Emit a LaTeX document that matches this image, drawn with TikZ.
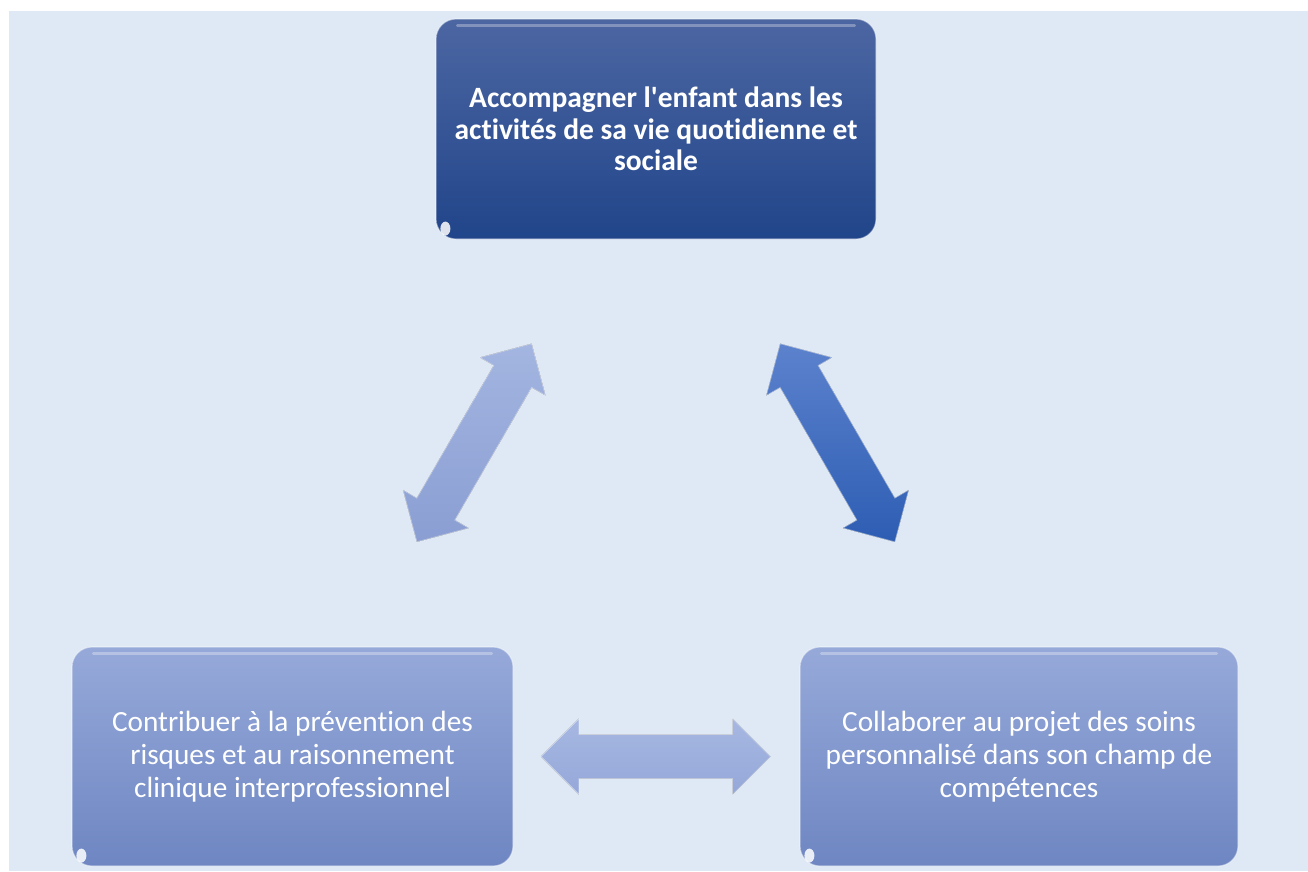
\documentclass[tikz,border=0pt]{standalone}
\usepackage{fontspec}
\setmainfont[Ligatures={NoCommon}]{Carlito}
\usetikzlibrary{calc}
\usetikzlibrary{positioning}
\definecolor{fond}{HTML}{DEE9F5}
\definecolor{hautfonce}{HTML}{4C66A2}
\definecolor{basfonce}{HTML}{21458A}
\definecolor{hautclair}{HTML}{96A9D9}
\definecolor{basclair}{HTML}{6E86C2}
\definecolor{gauchehaut}{HTML}{A3B5E0}
\definecolor{gauchebas}{HTML}{8A9ED3}
\definecolor{droitehaut}{HTML}{5C82CD}
\definecolor{droitebas}{HTML}{2D5DB3}
\definecolor{bashaut}{HTML}{A6B7E1}
\definecolor{basbas}{HTML}{95A8D9}
\tikzset{x=1pt, y=1pt,
  carte/.style={rounded corners=20pt, text=white, align=center, inner sep=0pt,
    draw=white, draw opacity=0.45, line width=1.2pt,
    font=\fontsize{29.3}{33}\selectfont},
  fonce/.style={carte, top color=hautfonce, bottom color=basfonce, font=\bfseries\fontsize{29.5}{31.5}\selectfont},
  clair/.style={carte, top color=hautclair, bottom color=basclair},
  fleche/.style={draw=white, draw opacity=0.5, line width=0.8pt, line join=miter}}
% fleche double entre deux cartes
\newcommand{\flechedouble}[3]{%
  \path (#1.center) -- (#2.center) coordinate[pos=0.342] (t1) coordinate[pos=0.658] (t2);
  \coordinate (h1) at ($(t1)!38pt!(t2)$);
  \coordinate (h2) at ($(t2)!38pt!(t1)$);
  \filldraw[fleche, #3] (t1) -- ($(h1)!38pt!90:(t1)$) -- ($(h1)!22pt!90:(t1)$)
    -- ($(h2)!22pt!-90:(t2)$) -- ($(h2)!38pt!-90:(t2)$) -- (t2)
    -- ($(h2)!38pt!90:(t2)$) -- ($(h2)!22pt!90:(t2)$)
    -- ($(h1)!22pt!-90:(t1)$) -- ($(h1)!38pt!-90:(t1)$) -- cycle;}
\newcommand{\reflet}[1]{%
  \draw[white, opacity=0.3, line width=3pt, line cap=round] ($(#1.north west)+(22,-7)$) -- ($(#1.north east)+(-22,-7)$);
  \fill[white, opacity=0.85] ($(#1.south west)+(10,11)$) ellipse (5 and 7);}

\begin{document}
\begin{tikzpicture}
\useasboundingbox (0,0) rectangle (1308,-871);
\fill[fond] (9,-11) rectangle (1308,-871);

\node[fonce, minimum width=440pt, minimum height=220pt] (activites) at (656,-129)
  {Accompagner l\textquotesingle enfant dans les\\activités de sa vie quotidienne et\\sociale};
\node[clair, minimum width=441pt, minimum height=219pt] (prevention) at (292.5,-756.5)
  {Contribuer à la prévention des\\risques et au raisonnement\\clinique interprofessionnel};
\node[clair, minimum width=438pt, minimum height=219pt] (soins) at (1019,-756.5)
  {Collaborer au projet des soins\\personnalisé dans son champ de\\compétences};

\reflet{activites}
\reflet{prevention}
\reflet{soins}

\flechedouble{prevention}{activites}{top color=gauchehaut, bottom color=gauchebas}
\flechedouble{soins}{activites}{top color=droitehaut, bottom color=droitebas}
\flechedouble{prevention}{soins}{top color=bashaut, bottom color=basbas}
\end{tikzpicture}
\end{document}
